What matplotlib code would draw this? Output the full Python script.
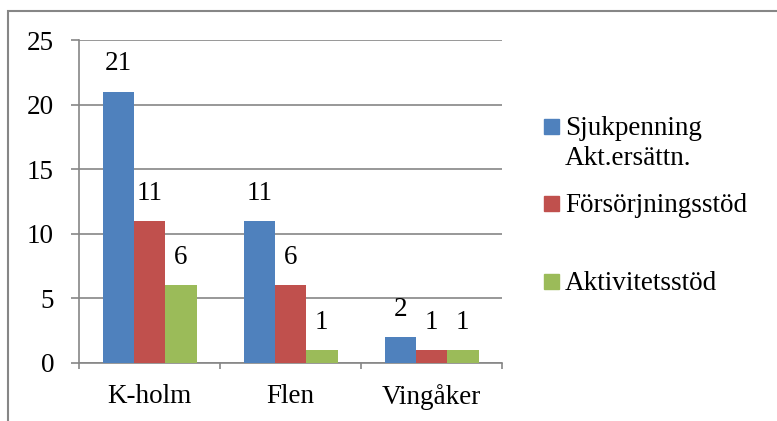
import numpy as np
import matplotlib.pyplot as plt
from matplotlib.patches import Rectangle

plt.rcParams['font.family'] = ['Liberation Serif', 'DejaVu Serif']

categories = ['K-holm', 'Flen', 'Vingåker']
series_names = ['Sjukpenning\nAkt.ersättn.', 'Försörjningsstöd', 'Aktivitetsstöd']
sjukpenning = [21, 11, 2]
forsorjning = [11, 6, 1]
aktivitet = [6, 1, 1]
series_values = [sjukpenning, forsorjning, aktivitet]
colors = ['#4F81BD', '#C0504D', '#9BBB59']
yticks = [0, 5, 10, 15, 20, 25]

W, H = 777, 421
grey = '#868686'
fs = 19.5

fig = plt.figure(figsize=(W / 100, H / 100), dpi=100)
ax = fig.add_axes([79 / W, (H - 363) / H, (502 - 79) / W, (363 - 40) / H])

x = np.arange(len(categories))
bw = 1 / 4.5
for i, (vals, col) in enumerate(zip(series_values, colors)):
    bars = ax.bar(x + (i - 1) * bw, vals, bw, color=col, zorder=3)
    ax.bar_label(bars, padding=11, fontsize=fs)

ax.set_xlim(-0.5, len(categories) - 0.5)
ax.set_ylim(0, 25)
ax.set_yticks(yticks)
ax.yaxis.grid(True, color=grey, linewidth=1.2)
ax.set_axisbelow(True)

ax.set_xticks(x)
ax.set_xticklabels(categories, fontsize=fs)
ax.set_xticks(np.arange(len(categories) + 1) - 0.5, minor=True)
ax.tick_params(axis='x', which='major', length=0, pad=15)
ax.tick_params(axis='x', which='minor', length=4, width=1.2, color=grey)
ax.tick_params(axis='y', length=6, width=1.2, color=grey, pad=12, labelsize=fs)

for s in ['top', 'right']:
    ax.spines[s].set_visible(False)
for s in ['left', 'bottom']:
    ax.spines[s].set_color(grey)
    ax.spines[s].set_linewidth(1.2)

# legend drawn by hand so the square sits on the first line of the label
leg_base = [135, 212, 290]
for name, col, yb in zip(series_names, colors, leg_base):
    fig.patches.append(Rectangle((544 / W, 1 - (yb - 1) / H), 15 / W, 15 / H,
                                 transform=fig.transFigure, color=col))
    for k, line in enumerate(name.split('\n')):
        fig.text(565 / W, 1 - (yb + 30 * k) / H, line, fontsize=fs,
                 va='baseline', ha='left')

# outer chart border (clipped at right and bottom edges)
fig.patches.append(Rectangle((8 / W, -0.1), 1.1, 1.1 - 10.5 / H,
                             transform=fig.transFigure, fill=False,
                             edgecolor=grey, linewidth=1.5))

fig.savefig('out.png', dpi=100)
